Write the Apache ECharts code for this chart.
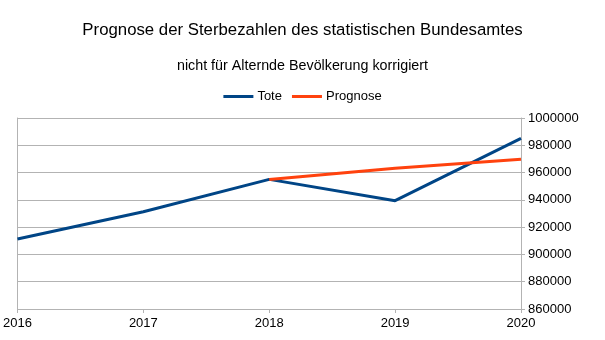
<!DOCTYPE html>
<html><head><meta charset="utf-8">
<script src="https://cdn.jsdelivr.net/npm/echarts@6/dist/echarts.min.js"></script>
<style>html,body{margin:0;padding:0;background:#fff}#c{width:605px;height:340px}</style>
</head><body><div id="c"></div>
<script>
var years = ['2016','2017','2018','2019','2020'];
var tote = [911300, 931300, 955000, 939400, 985100];
var prognose = [null, null, 955000, 963100, 969700];
var yMin = 860000, yMax = 1000000, yStep = 20000;

var chart = echarts.init(document.getElementById('c'), null, {renderer:'canvas'});
var font = '"Liberation Sans", Arial, sans-serif';
chart.setOption({
  animation:false,
  backgroundColor:'#fff',
  title:[
    {text:'Prognose der Sterbezahlen des statistischen Bundesamtes', left:'center', top:17,
     textStyle:{fontFamily:font, fontSize:16.8, fontWeight:'normal', color:'#000'}},
    {text:'nicht für Alternde Bevölkerung korrigiert', left:'center', top:54,
     textStyle:{fontFamily:font, fontSize:14.3, fontWeight:'normal', color:'#000'}}
  ],
  legend:{top:85, left:'center', itemWidth:30, itemHeight:3, itemGap:10, icon:'rect',
    textStyle:{fontFamily:font, fontSize:13, color:'#000', padding:[0,0,0,-1]},
    data:['Tote','Prognose']},
  grid:{left:15, right:84, top:118, bottom:31},
  xAxis:{type:'category', data:years, boundaryGap:false,
    axisLine:{lineStyle:{color:'#b3b3b3', width:1}},
    axisTick:{show:true, length:4, lineStyle:{color:'#b3b3b3'}},
    axisLabel:{fontFamily:font, fontSize:13, color:'#000', margin:8},
    splitLine:{show:false}},
  yAxis:[
    {type:'value', position:'right', min:yMin, max:yMax, interval:yStep,
     axisLine:{show:true, lineStyle:{color:'#b3b3b3'}},
     axisTick:{show:true, length:4, lineStyle:{color:'#b3b3b3'}},
     axisLabel:{fontFamily:font, fontSize:13, color:'#000', margin:7,
       formatter:function(v){return String(v);}},
     splitLine:{show:true, lineStyle:{color:'#b3b3b3', width:1}}},
    {type:'value', position:'left', min:yMin, max:yMax, interval:yStep,
     axisLine:{show:true, lineStyle:{color:'#b3b3b3'}},
     axisTick:{show:false}, axisLabel:{show:false}, splitLine:{show:false}}
  ],
  series:[
    {name:'Tote', type:'line', data:tote, showSymbol:false, symbol:'none',
     lineStyle:{color:'#004586', width:3}, itemStyle:{color:'#004586'}},
    {name:'Prognose', type:'line', data:prognose, showSymbol:false, symbol:'none',
     lineStyle:{color:'#ff420e', width:3}, itemStyle:{color:'#ff420e'}}
  ]
});
</script></body></html>
